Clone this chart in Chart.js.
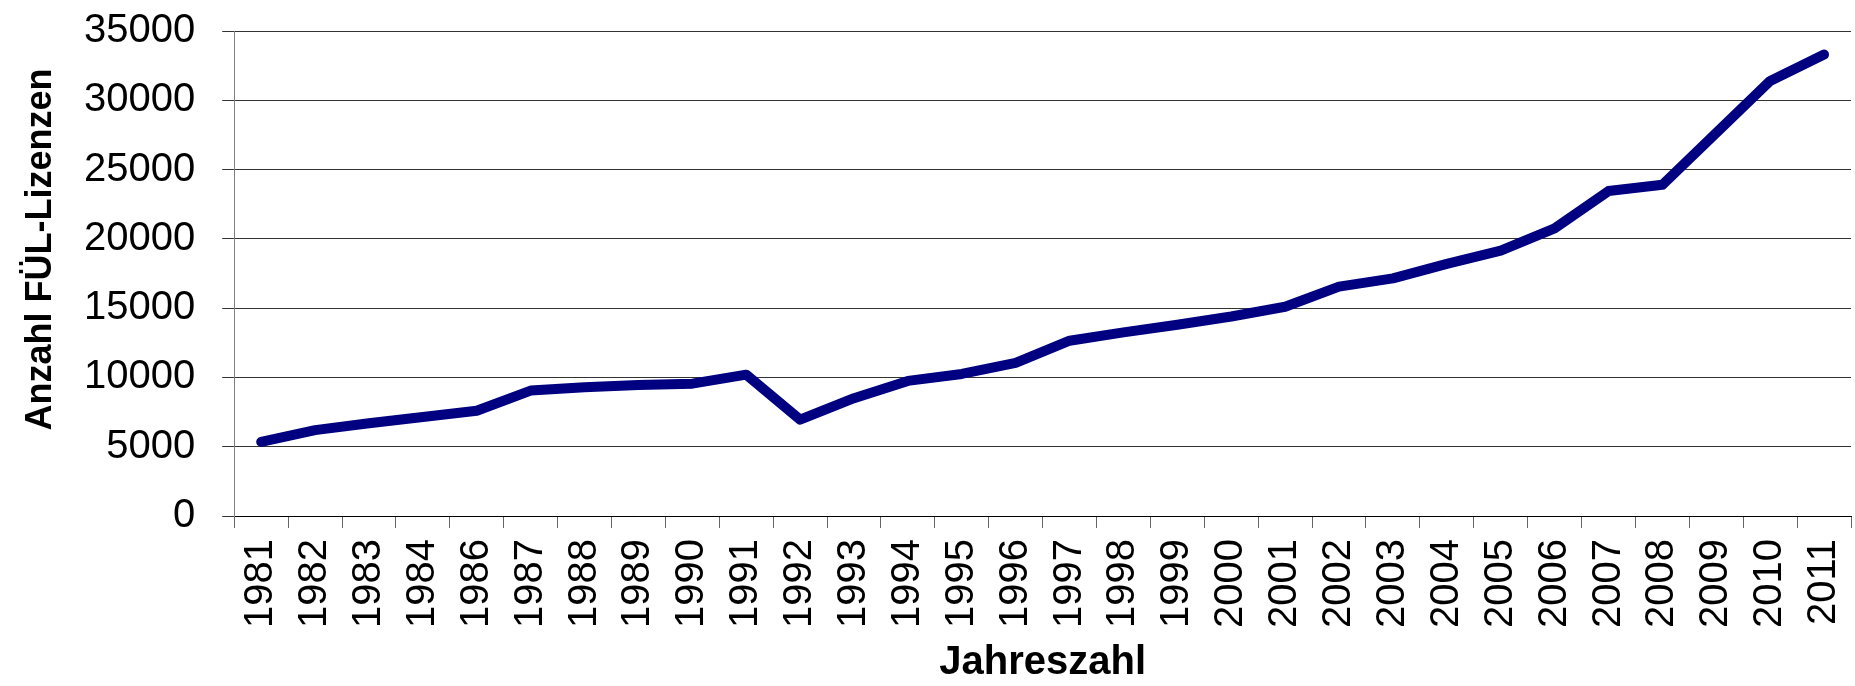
<!DOCTYPE html>
<html>
<head>
<meta charset="utf-8">
<script src="https://cdn.jsdelivr.net/npm/chart.js@4/dist/chart.umd.min.js"></script>
<style>
  html, body { margin: 0; padding: 0; background: #fff; }
  #box { width: 1855px; height: 686px; }
</style>
</head>
<body>
<div id="box"><canvas id="grafico"></canvas></div>
<script>
const jahre = [
  "1981", "1982", "1983", "1984", "1986", "1987", "1988", "1989", "1990", "1991",
  "1992", "1993", "1994", "1995", "1996", "1997", "1998", "1999", "2000", "2001",
  "2002", "2003", "2004", "2005", "2006", "2007", "2008", "2009", "2010", "2011",
];
const lizenzen = [
  5350, 6200, 6700, 7150, 7600, 9050, 9300, 9450, 9550, 10200,
  6950, 8500, 9750, 10250, 11050, 12650, 13250, 13800, 14400, 15100,
  16550, 17150, 18200, 19150, 20750, 23450, 23900, 27650, 31400, 33300,
];
const yMin = 0;
const yMax = 35000;
const yStep = 5000;
const yTitel = "Anzahl FÜL-Lizenzen";
const xTitel = "Jahreszahl";

const schrift = "'Liberation Sans', Arial, sans-serif";

// y-Titel selbst zeichnen, sitzt in Excel etwas oberhalb der Mitte
const yTitelPlugin = {
  id: "yTitel",
  afterDraw: (chart) => {
    const ctx = chart.ctx;
    const area = chart.chartArea;
    const mitte = area.top + (area.bottom - area.top) / 2 - 24;
    ctx.save();
    ctx.translate(51, mitte);
    ctx.rotate(-Math.PI / 2);
    ctx.font = "bold 36px " + schrift;
    ctx.fillStyle = "#000";
    ctx.textAlign = "center";
    ctx.textBaseline = "alphabetic";
    ctx.fillText(yTitel, 0, 0);
    ctx.restore();
  },
};

const grafico = () => {
  const canvas = document.getElementById("grafico");

  new Chart(canvas, {
    type: "line",
    data: {
      labels: jahre,
      datasets: [
        {
          label: yTitel,
          data: lizenzen,
          borderColor: "#000080",
          backgroundColor: "#000080",
          borderWidth: 10,
          borderCapStyle: "round",
          borderJoinStyle: "round",
          pointRadius: 0,
          tension: 0,
          fill: false,
        },
      ],
    },
    options: {
      responsive: true,
      maintainAspectRatio: false,
      animation: false,
      layout: { padding: { left: 57, top: 0, right: 0, bottom: 0 } },
      plugins: {
        legend: { display: false },
        tooltip: { enabled: false },
      },
      scales: {
        x: {
          type: "category",
          offset: true,
          grid: {
            offset: true,
            drawOnChartArea: false,
            tickLength: 12,
            color: "#666",
          },
          border: { color: "#000", width: 1 },
          ticks: {
            autoSkip: false,
            minRotation: 90,
            maxRotation: 90,
            padding: 11,
            color: "#000",
            font: { family: schrift, size: 40 },
          },
          title: {
            display: true,
            text: xTitel,
            color: "#000",
            font: { family: schrift, size: 40, weight: "bold", lineHeight: 1 },
            padding: { top: 4, bottom: 3 },
          },
          afterFit: (scale) => {
            scale.paddingRight = 4;
          },
        },
        y: {
          min: yMin,
          max: yMax,
          grid: {
            color: "#333",
            lineWidth: 1,
            tickLength: 12,
          },
          border: { color: "#808080", width: 1 },
          ticks: {
            stepSize: yStep,
            padding: 27,
            color: "#000",
            font: { family: schrift, size: 40 },
            callback: (v) => String(v),
          },
          afterFit: (scale) => {
            scale.paddingTop = 31;
            scale.paddingBottom = 0;
          },
        },
      },
    },
    plugins: [yTitelPlugin],
  });
};

grafico();
</script>
</body>
</html>
